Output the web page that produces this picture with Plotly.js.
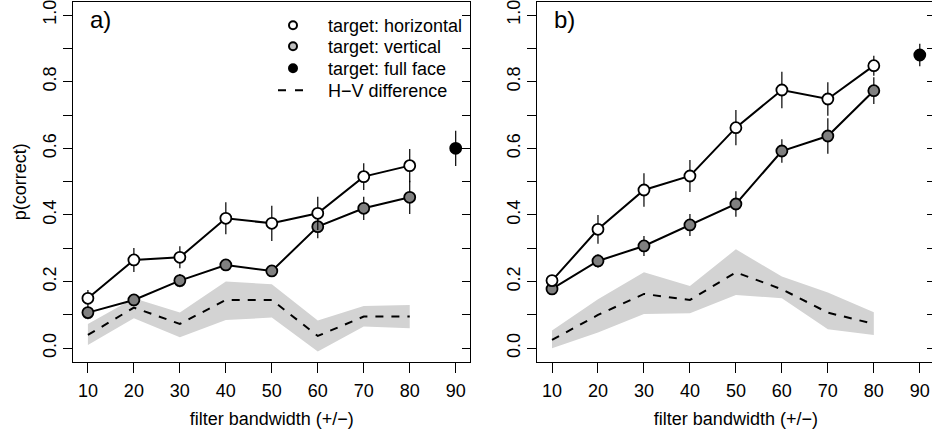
<!DOCTYPE html>
<html>
<head>
<meta charset="utf-8">
<script src="https://cdn.plot.ly/plotly-3.0.1.min.js"></script>
<style>
  html, body { margin: 0; padding: 0; overflow: hidden; background: #fff; }
  #chart { width: 936px; height: 432px; }
</style>
</head>
<body>
<div id="chart"></div>
<script>
// Filter bandwidth conditions (+/- degrees)
const bandwidth = [10, 20, 30, 40, 50, 60, 70, 80];
const fullFaceX = [90];

// Panel a) proportion correct
const horizA    = [0.150, 0.265, 0.273, 0.390, 0.375, 0.405, 0.515, 0.548];
const horizErrA = [0.025, 0.036, 0.033, 0.048, 0.053, 0.050, 0.040, 0.050];
const vertA     = [0.107, 0.145, 0.203, 0.250, 0.232, 0.365, 0.420, 0.453];
const vertErrA  = [0.020, 0.015, 0.020, 0.015, 0.015, 0.035, 0.035, 0.050];
const fullA     = [0.600];
const fullErrA  = [0.053];
const diffA     = [0.040, 0.122, 0.073, 0.145, 0.145, 0.037, 0.095, 0.095];
const diffLoA   = [0.010, 0.090, 0.033, 0.085, 0.092, -0.010, 0.065, 0.060];
const diffHiA   = [0.073, 0.150, 0.107, 0.200, 0.192, 0.083, 0.127, 0.130];

// Panel b) proportion correct
const horizB    = [0.203, 0.357, 0.475, 0.517, 0.662, 0.775, 0.748, 0.848];
const horizErrB = [0.015, 0.043, 0.050, 0.048, 0.053, 0.055, 0.050, 0.030];
const vertB     = [0.178, 0.262, 0.307, 0.370, 0.433, 0.592, 0.637, 0.773];
const vertErrB  = [0.015, 0.020, 0.030, 0.033, 0.038, 0.035, 0.053, 0.040];
const fullB     = [0.880];
const fullErrB  = [0.034];
const diffB     = [0.025, 0.100, 0.163, 0.145, 0.228, 0.177, 0.107, 0.073];
const diffLoB   = [0.000, 0.047, 0.103, 0.105, 0.160, 0.150, 0.057, 0.040];
const diffHiB   = [0.053, 0.147, 0.228, 0.187, 0.297, 0.215, 0.167, 0.108];

// Axis ticks and labels
const xTicks = [10, 20, 30, 40, 50, 60, 70, 80, 90];
const yTicks = [0, 0.1, 0.2, 0.3, 0.4, 0.5, 0.6, 0.7, 0.8, 0.9, 1.0];
const yTickText = ["0.0", "", "0.2", "", "0.4", "", "0.6", "", "0.8", "", "1.0"];
const legendNames = ["target: horizontal", "target: vertical", "target: full face", "H\u2212V difference"];
const panelLabels = ["a)", "b)"];
const xTitle = "filter bandwidth (+/\u2212)";
const yTitle = "p(correct)";

const FONT = "Liberation Sans, Arial, Helvetica, sans-serif";
const W = 936, H = 432;
const BAND = "#d3d3d3", MID_GRAY = "#808080", LEG_GRAY = "#bebebe";
const pad = "\u00a0\u00a0\u00a0";
const FS = 18;

function panel(xa, ya, yRight, horiz, horizErr, vert, vertErr, full, fullErr, diff, lo, hi) {
  const base = { xaxis: xa, yaxis: ya, showlegend: false, hoverinfo: "skip" };
  const err = (arr) => ({ type: "data", array: arr, visible: true, width: 0, thickness: 1.2, color: "#000" });
  return [
    Object.assign({}, base, { x: bandwidth, y: lo, mode: "lines", line: { width: 0, color: BAND } }),
    Object.assign({}, base, { x: bandwidth, y: hi, mode: "lines", line: { width: 0, color: BAND },
      fill: "tonexty", fillcolor: BAND }),
    Object.assign({}, base, { x: bandwidth, y: diff, mode: "lines",
      line: { color: "#000", width: 2, dash: "8px,8px" } }),
    Object.assign({}, base, { x: bandwidth, y: vert, mode: "lines+markers", error_y: err(vertErr),
      line: { color: "#000", width: 2 },
      marker: { size: 11, color: MID_GRAY, line: { color: "#000", width: 1.8 } } }),
    Object.assign({}, base, { x: bandwidth, y: horiz, mode: "lines+markers", error_y: err(horizErr),
      line: { color: "#000", width: 2 },
      marker: { size: 11, color: "#fff", line: { color: "#000", width: 1.8 } } }),
    // full-face point uses the right-hand tick axis (same range as the left one)
    Object.assign({}, base, { x: fullFaceX, y: full, yaxis: yRight, mode: "markers", error_y: err(fullErr),
      marker: { size: 11, color: "#000", line: { color: "#000", width: 1.8 } } })
  ];
}

// Key entries, one small legend each so rows sit at fixed positions
const legendRowsY = [25, 46, 68, 90];
const legendTraces = [
  { name: pad + legendNames[0], marker: { size: 8, color: "#fff", line: { color: "#000", width: 2 } }, mode: "markers" },
  { name: pad + legendNames[1], marker: { size: 8, color: LEG_GRAY, line: { color: "#000", width: 2 } }, mode: "markers" },
  { name: pad + legendNames[2], marker: { size: 8, color: "#000", line: { color: "#000", width: 2 } }, mode: "markers" },
  { name: pad + legendNames[3], line: { color: "#000", width: 2, dash: "8px,9px" }, mode: "lines" }
].map((t, i) => Object.assign({ x: [null], y: [null], xaxis: "x", yaxis: "y", showlegend: true,
  hoverinfo: "skip", legend: i === 0 ? "legend" : "legend" + (i + 1) }, t));

const data = []
  .concat(panel("x", "y", "y3", horizA, horizErrA, vertA, vertErrA, fullA, fullErrA, diffA, diffLoA, diffHiA))
  .concat(panel("x2", "y2", "y4", horizB, horizErrB, vertB, vertErrB, fullB, fullErrB, diffB, diffLoB, diffHiB))
  .concat(legendTraces);

const yDom = [(H - 361.6) / H, (H - 1.7) / H];
const tickFont = { family: FONT, size: FS, color: "#000" };

function xAxis(domain, anchor) {
  return {
    domain: domain, anchor: anchor, range: [6.8, 93.2],
    tickvals: xTicks, ticks: "outside", ticklen: 10, tickwidth: 1, tickcolor: "#000",
    ticklabelstandoff: 3,
    showline: true, mirror: true, linecolor: "#000", linewidth: 1,
    showgrid: false, zeroline: false, tickfont: tickFont,
    title: { text: xTitle, font: tickFont, standoff: 12 }
  };
}
function yAxis(anchor, withTitle) {
  return {
    domain: yDom, anchor: anchor, range: [-0.04, 1.04],
    tickvals: yTicks, ticktext: yTickText, tickangle: -90, ticklabeloverflow: "allow",
    ticks: "outside", ticklen: 9, tickwidth: 1, tickcolor: "#000",
    showline: true, mirror: true, linecolor: "#000", linewidth: 1,
    showgrid: false, zeroline: false, tickfont: tickFont,
    title: withTitle ? { text: yTitle, font: tickFont, standoff: 8 } : undefined
  };
}
function rightTicks(overlay, anchor) {
  return {
    overlaying: overlay, anchor: anchor, side: "right", range: [-0.04, 1.04],
    tickvals: yTicks, ticks: "inside", ticklen: 8, tickwidth: 1, tickcolor: "#000",
    showticklabels: false, showline: false, showgrid: false, zeroline: false
  };
}

const layout = {
  width: W, height: H,
  margin: { l: 0, r: 0, t: 0, b: 0 },
  paper_bgcolor: "#fff", plot_bgcolor: "#fff",
  font: { family: FONT, color: "#000" },
  xaxis: xAxis([73.2 / W, 470.4 / W], "y"),
  yaxis: yAxis("x", true),
  xaxis2: xAxis([537.3 / W, 934.5 / W], "y2"),
  yaxis2: yAxis("x2", false),
  yaxis3: rightTicks("y", "x"),
  yaxis4: rightTicks("y2", "x2"),
  showlegend: true,
  annotations: panelLabels.map((t, i) => ({
    text: t, xref: "paper", yref: "paper", showarrow: false,
    x: (i === 0 ? 88 : 552) / W, y: (H - 20) / H, xanchor: "left", yanchor: "middle",
    font: { family: FONT, size: 24, color: "#000" }
  }))
};
legendRowsY.forEach((yc, i) => {
  layout[i === 0 ? "legend" : "legend" + (i + 1)] = {
    x: 273 / W, y: (H - (yc - 18)) / H, xanchor: "left", yanchor: "top",
    bgcolor: "rgba(0,0,0,0)", borderwidth: 0,
    font: { family: FONT, size: FS, color: "#000" }
  };
});

Plotly.newPlot("chart", data, layout, { displayModeBar: false, staticPlot: true });
</script>
</body>
</html>
